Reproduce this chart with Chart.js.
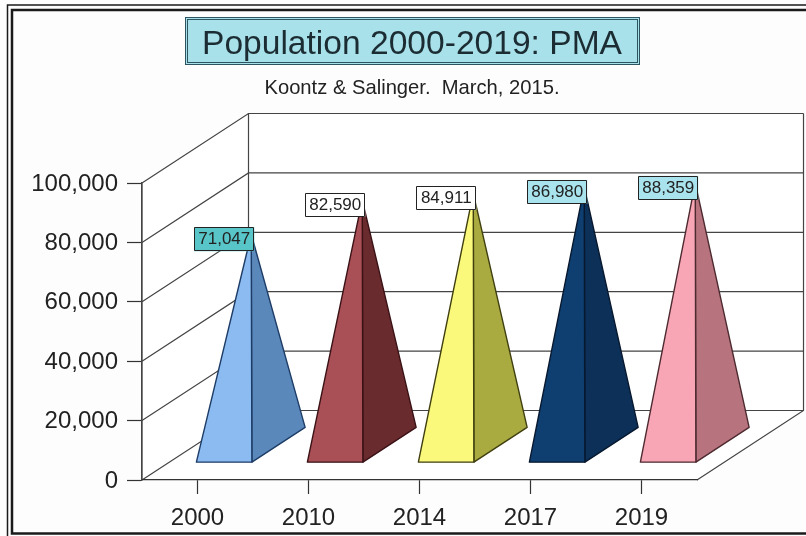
<!DOCTYPE html>
<html>
<head>
<meta charset="utf-8">
<style>html,body{margin:0;padding:0;background:#fdfdfd}canvas{display:block}</style>
<script src="https://cdn.jsdelivr.net/npm/chart.js@4"></script>
</head>
<body>
<canvas id="c" width="806" height="536"></canvas>
<script>
const categories = ['2000', '2010', '2014', '2017', '2019'];
const population = [71047, 82590, 84911, 86980, 88359];
const frontFaces = ['#8bbbf0', '#a94f56', '#fbf97c', '#0e3f70', '#f8a6b5'];
const sideFaces = ['#5b88bb', '#6a2b2e', '#a9aa40', '#0d3058', '#b8747e'];
const edges = ['#1d3c66', '#3a1216', '#3f3f10', '#07182f', '#4d2a30'];
const labelFills = ['#58c6c9', '#ffffff', '#ffffff', '#a9e3ee', '#a9e3ee'];
const ink = '#222222';
const DEPTH_X = 106.5, DEPTH_Y = 69.5;

const scene = {
  id: 'scene',
  beforeDraw(chart) {
    const c = chart.ctx, a = chart.chartArea, y = chart.scales.y;
    c.save();
    c.fillStyle = '#fdfdfd';
    c.fillRect(0, 0, 806, 536);
    c.strokeStyle = '#1a1a1a';
    c.lineWidth = 1.5;
    c.strokeRect(7.5, 5, 820, 535);
    c.lineWidth = 2.5;
    c.strokeRect(12, 10, 820, 523.5);
    c.fillStyle = '#a9e1ea';
    c.fillRect(185, 17, 455, 48);
    c.strokeStyle = '#2c5560';
    c.lineWidth = 1;
    c.strokeRect(185.5, 17.5, 454, 47);
    c.strokeRect(187.5, 19.5, 450, 43);
    const L = a.left, R = a.right, T = a.top, B = a.bottom;
    c.fillStyle = '#ffffff';
    c.beginPath();
    c.moveTo(L, T); c.lineTo(L + DEPTH_X, T - DEPTH_Y); c.lineTo(R + DEPTH_X, T - DEPTH_Y);
    c.lineTo(R + DEPTH_X, B - DEPTH_Y); c.lineTo(R, B); c.lineTo(L, B);
    c.closePath(); c.fill();
    c.lineWidth = 1.2;
    c.strokeStyle = '#444444';
    y.ticks.forEach(t => {
      const p = y.getPixelForValue(t.value);
      c.beginPath();
      c.moveTo(L, p); c.lineTo(L + DEPTH_X, p - DEPTH_Y); c.lineTo(R + DEPTH_X, p - DEPTH_Y);
      c.stroke();
    });
    c.beginPath();
    c.moveTo(L + DEPTH_X, T - DEPTH_Y); c.lineTo(L + DEPTH_X, B - DEPTH_Y);
    c.moveTo(R + DEPTH_X, T - DEPTH_Y); c.lineTo(R + DEPTH_X, B - DEPTH_Y);
    c.lineTo(R, B);
    c.moveTo(L, T); c.lineTo(L, B);
    c.stroke();
    c.restore();
  },
  afterDatasetsDraw(chart) {
    const c = chart.ctx, bars = chart.getDatasetMeta(0).data;
    c.save();
    bars.forEach((b, i) => {
      const half = b.width / 2;
      const cx = b.x + DEPTH_X / 2, zero = b.base - DEPTH_Y / 2;
      const hx = DEPTH_X / 4, hy = DEPTH_Y / 4;
      const fl = [cx - half - hx, zero + hy], fr = [cx + half - hx, zero + hy];
      const br = [cx + half + hx, zero - hy];
      const apex = [cx + 0.5, b.y - DEPTH_Y / 2];
      c.lineJoin = 'round';
      c.lineWidth = 1.4;
      c.strokeStyle = edges[i];
      c.fillStyle = sideFaces[i];
      c.beginPath(); c.moveTo(...fr); c.lineTo(...br); c.lineTo(...apex); c.closePath(); c.fill(); c.stroke();
      c.fillStyle = frontFaces[i];
      c.beginPath(); c.moveTo(...fl); c.lineTo(...fr); c.lineTo(...apex); c.closePath(); c.fill(); c.stroke();
    });
    c.font = '17px "Liberation Sans"';
    c.textAlign = 'center';
    c.textBaseline = 'middle';
    bars.forEach((b, i) => {
      const ax = b.x + DEPTH_X / 2 + 0.5, ay = b.y - DEPTH_Y / 2;
      const w = 60, h = 24;
      const bx = ax + 3 - w, by = ay + 5 - h / 2;
      c.fillStyle = labelFills[i];
      c.fillRect(bx, by, w, h);
      c.lineWidth = 1;
      c.strokeStyle = '#222222';
      c.strokeRect(Math.round(bx) + .5, Math.round(by) + .5, w - 1, h - 1);
      c.fillStyle = ink;
      c.fillText(population[i].toLocaleString('en-US'), bx + w / 2, by + h / 2 + 0.5);
    });
    c.restore();
  }
};

new Chart(document.getElementById('c'), {
  type: 'bar',
  data: {
    labels: categories,
    datasets: [{
      data: population,
      backgroundColor: 'rgba(0,0,0,0)',
      borderWidth: 0,
      categoryPercentage: 1,
      barPercentage: 0.5
    }]
  },
  plugins: [scene],
  options: {
    responsive: false,
    animation: false,
    events: [],
    layout: { padding: { left: 18, right: 0, top: 0, bottom: 0 } },
    plugins: {
      legend: { display: false },
      tooltip: { enabled: false },
      title: {
        display: true,
        text: 'Population 2000-2019: PMA',
        color: '#1c2c33',
        font: { family: '"Liberation Sans"', size: 33.6, weight: 'normal', lineHeight: 1 },
        padding: { top: 28, bottom: 0 }
      },
      subtitle: {
        display: true,
        text: 'Koontz & Salinger.  March, 2015.',
        color: ink,
        font: { family: '"Liberation Sans"', size: 20.2, weight: 'normal', lineHeight: 1 },
        padding: { top: 17, bottom: 84.2 }
      }
    },
    scales: {
      x: {
        afterFit(s) { s.height = 56; },
        grid: { drawOnChartArea: false, tickLength: 14, tickColor: '#333333', tickWidth: 1.2, offset: false },
        border: { color: '#333333', width: 1.2 },
        ticks: { color: ink, padding: 10, maxRotation: 0, font: { family: '"Liberation Sans"', size: 24 } }
      },
      y: {
        min: 0, max: 100000,
        afterFit(s) { s.width = 124; },
        grid: { drawOnChartArea: false, tickLength: 15, tickColor: '#333333', tickWidth: 1.2 },
        border: { color: '#444444', width: 1.2 },
        ticks: {
          stepSize: 20000, color: ink, padding: 9, labelOffset: 1,
          font: { family: '"Liberation Sans"', size: 24 },
          callback: v => v.toLocaleString('en-US')
        }
      },
      margin: {
        axis: 'y', position: 'right', display: true,
        afterFit(s) { s.width = 109; },
        grid: { display: false },
        border: { display: false },
        ticks: { display: false }
      }
    }
  }
});
</script>
</body>
</html>
